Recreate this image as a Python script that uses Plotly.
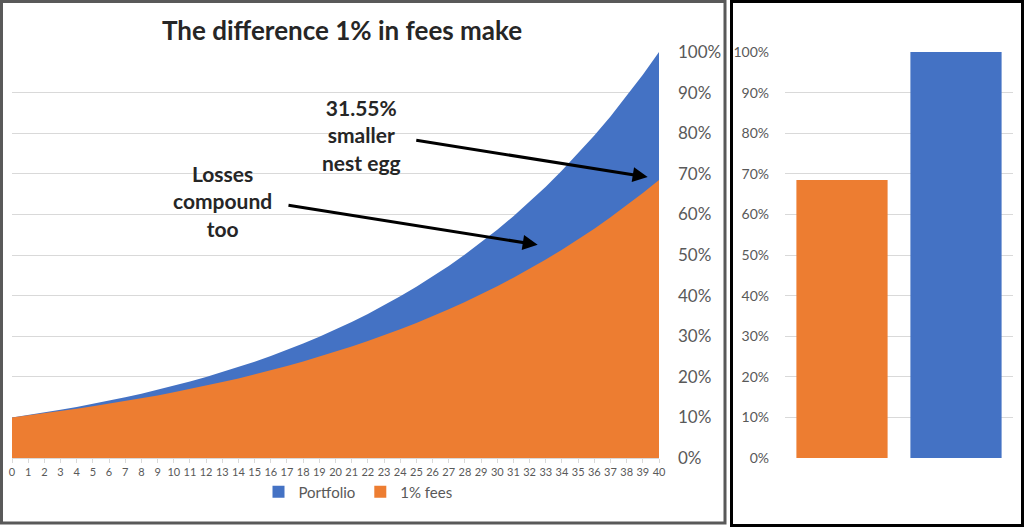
import plotly.graph_objects as go

# anni e valori (frazione del valore finale del portafoglio)
anni = list(range(0, 41))
portafoglio = [0.1000, 0.1059, 0.1122, 0.1189, 0.1259, 0.1334, 0.1413, 0.1496, 0.1585, 0.1679,
               0.1778, 0.1884, 0.1995, 0.2114, 0.2239, 0.2371, 0.2512, 0.2661, 0.2818, 0.2985,
               0.3162, 0.3350, 0.3548, 0.3758, 0.3981, 0.4217, 0.4467, 0.4732, 0.5012, 0.5309,
               0.5623, 0.5957, 0.6310, 0.6683, 0.7080, 0.7499, 0.7943, 0.8414, 0.8913, 0.9441,
               1.0000]
con_commissioni = [0.1000, 0.1049, 0.1101, 0.1155, 0.1212, 0.1272, 0.1335, 0.1400, 0.1469, 0.1542,
                   0.1618, 0.1697, 0.1781, 0.1869, 0.1961, 0.2058, 0.2159, 0.2265, 0.2377, 0.2494,
                   0.2617, 0.2746, 0.2881, 0.3023, 0.3172, 0.3328, 0.3492, 0.3664, 0.3845, 0.4034,
                   0.4233, 0.4442, 0.4661, 0.4890, 0.5131, 0.5384, 0.5649, 0.5928, 0.6220, 0.6526,
                   0.6845]
barre_nomi = ["1% fees", "Portfolio"]
barra_commissioni = [0.6845]
barra_portafoglio = [1.0]
tick_y = [0, 0.1, 0.2, 0.3, 0.4, 0.5, 0.6, 0.7, 0.8, 0.9, 1.0]

blu = "#4472C4"
arancio = "#ED7D31"
grigio_testo = "#595959"
griglia = "#D9D9D9"
font_base = "Lato"

fig = go.Figure()

# aree sovrapposte (non impilate): prima il portafoglio, poi quello con commissioni sopra
fig.add_trace(go.Scatter(
    x=anni, y=portafoglio, name="Portfolio", showlegend=False,
    mode="lines", line=dict(color=blu, width=0),
    fill="tozeroy", fillcolor=blu,
    xaxis="x", yaxis="y"
))
fig.add_trace(go.Scatter(
    x=anni, y=con_commissioni, name="1% fees", showlegend=False,
    mode="lines", line=dict(color=arancio, width=0),
    fill="tozeroy", fillcolor=arancio,
    xaxis="x", yaxis="y"
))

# pannello destro: confronto finale (le barre danno anche i quadratini della legenda)
fig.add_trace(go.Bar(
    x=[barre_nomi[1]], y=barra_portafoglio, name="Portfolio",
    marker=dict(color=blu, line=dict(width=0)),
    xaxis="x2", yaxis="y2"
))
fig.add_trace(go.Bar(
    x=[barre_nomi[0]], y=barra_commissioni, name="1% fees",
    marker=dict(color=arancio, line=dict(width=0)),
    xaxis="x2", yaxis="y2"
))

W, H = 1024, 527
y_dom = [69 / H, 475 / H]

# automargin=False ovunque: altrimenti le etichette agli estremi allargano i margini
fig.update_layout(
    width=W, height=H,
    margin=dict(l=0, r=0, t=0, b=0),
    paper_bgcolor="white", plot_bgcolor="white",
    font=dict(family=font_base, color=grigio_testo),
    barmode="overlay", bargap=0.2,
    xaxis=dict(
        domain=[12 / W, 659 / W], range=[0, 40], automargin=False,
        tickmode="array", tickvals=anni, ticktext=[str(a) for a in anni],
        tickfont=dict(size=11, color=grigio_testo),
        ticks="outside", ticklen=4, tickcolor=griglia,
        showline=True, linecolor=griglia, linewidth=1,
        showgrid=False, zeroline=False, fixedrange=True
    ),
    yaxis=dict(
        domain=y_dom, range=[0, 1], side="right", anchor="x", automargin=False,
        tickvals=tick_y, tickformat=".0%",
        tickfont=dict(size=17, color=grigio_testo),
        ticklabelstandoff=18,
        showgrid=True, gridcolor=griglia, gridwidth=1,
        zeroline=False, showline=False, ticks=""
    ),
    xaxis2=dict(
        domain=[785 / W, 1013 / W], anchor="y2", automargin=False,
        categoryorder="array", categoryarray=barre_nomi,
        showticklabels=False, ticks="", showline=False, showgrid=False
    ),
    yaxis2=dict(
        domain=y_dom, range=[0, 1], anchor="x2", automargin=False,
        tickvals=tick_y, tickformat=".0%",
        tickfont=dict(size=14, color=grigio_testo),
        ticklabelstandoff=15,
        showgrid=True, gridcolor=griglia, gridwidth=1,
        zeroline=False, showline=False, ticks=""
    ),
    legend=dict(
        orientation="h", x=358 / W, xanchor="center", y=35 / H, yanchor="middle",
        font=dict(size=15, color=grigio_testo), traceorder="normal",
        itemwidth=30, bgcolor="rgba(0,0,0,0)"
    ),
    shapes=[
        dict(type="rect", xref="paper", yref="paper",
             x0=1.5 / W, x1=725 / W, y0=4 / H, y1=(H - 1.5) / H,
             line=dict(color="#595959", width=3)),
        dict(type="rect", xref="paper", yref="paper",
             x0=731.5 / W, x1=1022.5 / W, y0=1.5 / H, y1=(H - 1.5) / H,
             line=dict(color="black", width=3)),
    ],
)

# titolo e testi annotati
fig.add_annotation(
    x=342 / W, y=(H - 30) / H, xref="paper", yref="paper",
    xanchor="center", yanchor="middle",
    text="<b>The difference 1% in fees make</b>", showarrow=False,
    font=dict(size=26, color="#262626", family=font_base)
)
fig.add_annotation(
    x=361 / W, y=(H - 135) / H, xref="paper", yref="paper",
    xanchor="center", yanchor="middle",
    text="<b>31.55%<br>smaller<br>nest egg</b>", showarrow=False,
    font=dict(size=21, color="#262626", family=font_base)
)
fig.add_annotation(
    x=222 / W, y=(H - 201) / H, xref="paper", yref="paper",
    xanchor="center", yanchor="middle",
    text="<b>Losses<br>compound<br>too</b>", showarrow=False,
    font=dict(size=21, color="#262626", family=font_base)
)

# frecce
fig.add_annotation(
    x=39.3, y=0.692, ax=24.9, ay=0.783, xref="x", yref="y", axref="x", ayref="y",
    text="", showarrow=True, arrowhead=2, arrowsize=1, arrowwidth=3, arrowcolor="black"
)
fig.add_annotation(
    x=32.5, y=0.525, ax=17.0, ay=0.623, xref="x", yref="y", axref="x", ayref="y",
    text="", showarrow=True, arrowhead=2, arrowsize=1, arrowwidth=3, arrowcolor="black"
)

# niente margini della pagina: il grafico occupa esattamente la finestra
fig.write_html(
    "out.html",
    config={"displayModeBar": False},
    post_script="document.body.style.margin='0';document.body.style.overflow='hidden';"
)
